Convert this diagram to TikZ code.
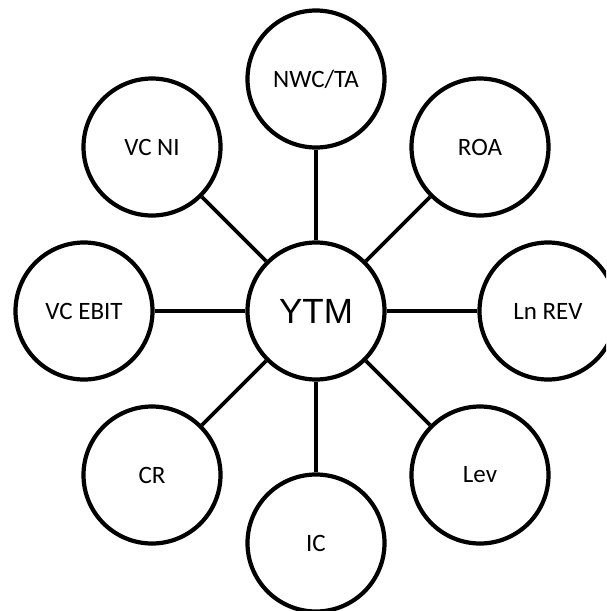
\documentclass[tikz,border=0pt]{standalone}
\usepackage{fontspec}
\setmainfont{Carlito}
\newfontfamily\arialfont{Liberation Sans}
\begin{document}
\begin{tikzpicture}[x=1pt,y=-1pt,
  bubble/.style={circle, draw=black, line width=4.2pt, minimum size=137pt, inner sep=0pt, fill=white, font=\fontsize{25}{25}\selectfont},
  hub/.style={bubble, font=\arialfont\fontsize{35}{35}\selectfont},
  link/.style={line width=3.8pt, black}]
\useasboundingbox (0,0) rectangle (606,611);
\clip (0,0) rectangle (606,611);
\node[hub] (ytm) at (316,311) {YTM};
\node[bubble] (nwc) at (316,79) {NWC/TA};
\node[bubble] (roa) at (480,147) {ROA};
\node[bubble] (vcni) at (152,147) {VC NI};
\node[bubble] (vcebit) at (84,311) {VC EBIT};
\node[bubble] (lnrev) at (548,311) {Ln REV};
\node[bubble] (cr) at (152,475) {CR};
\node[bubble] (lev) at (480,475) {Lev};
\node[bubble] (ic) at (316,543) {IC};
\foreach \n in {nwc,roa,vcni,vcebit,lnrev,cr,lev,ic}
  \draw[link] (ytm) -- (\n);
\end{tikzpicture}
\end{document}
